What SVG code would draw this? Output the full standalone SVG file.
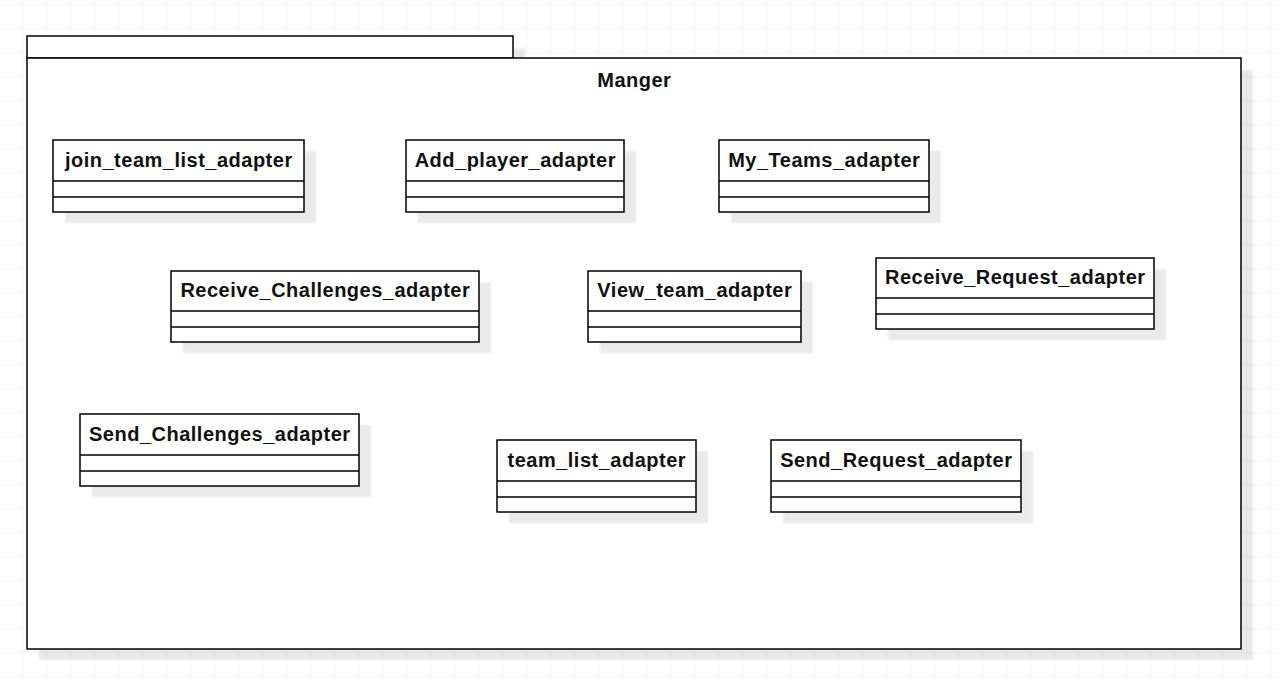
<svg xmlns="http://www.w3.org/2000/svg" width="1280" height="680" viewBox="0 0 1280 680">
<defs>
<pattern id="grid" x="-1" y="5" width="24" height="24" patternUnits="userSpaceOnUse">
<path d="M24 0V24M0 24H24" fill="none" stroke="#ededed" stroke-width="1"/>
</pattern>
<filter id="sh" x="-10%" y="-10%" width="130%" height="140%"><feGaussianBlur stdDeviation="1"/></filter>
</defs>
<style>
.box{fill:#fff;stroke:#000;stroke-width:1.5}
.shd{fill:#000;opacity:0.08;filter:url(#sh)}
.ln{stroke:#000;stroke-width:1.5}
.t{font-family:"Liberation Sans",Arial,sans-serif;font-weight:bold;font-size:20px;letter-spacing:0.5px;fill:#111;text-anchor:middle}
</style>
<rect width="1280" height="680" fill="#fff"/>
<rect width="1280" height="680" fill="url(#grid)"/>
<g id="package">
<rect class="shd" x="39" y="48" width="486" height="22"/>
<rect class="shd" x="39" y="70" width="1214" height="590"/>
<rect class="box" x="27" y="36" width="486" height="22"/>
<rect class="box" x="27" y="58" width="1214" height="591"/>
<text class="t" x="634.3" y="87">Manger</text>
</g>
<g id="join_team_list_adapter">
<rect class="shd" x="65" y="151" width="251" height="72"/>
<rect class="box" x="53" y="140" width="251" height="72"/>
<line class="ln" x1="53" y1="181" x2="304" y2="181"/><line class="ln" x1="53" y1="197" x2="304" y2="197"/>
<text class="t" x="178.8" y="167">join_team_list_adapter</text>
</g>
<g id="Add_player_adapter">
<rect class="shd" x="418" y="151" width="218" height="72"/>
<rect class="box" x="406" y="140" width="218" height="72"/>
<line class="ln" x1="406" y1="181" x2="624" y2="181"/><line class="ln" x1="406" y1="197" x2="624" y2="197"/>
<text class="t" x="515.3" y="167">Add_player_adapter</text>
</g>
<g id="My_Teams_adapter">
<rect class="shd" x="731" y="151" width="210" height="72"/>
<rect class="box" x="719" y="140" width="210" height="72"/>
<line class="ln" x1="719" y1="181" x2="929" y2="181"/><line class="ln" x1="719" y1="197" x2="929" y2="197"/>
<text class="t" x="824.3" y="167">My_Teams_adapter</text>
</g>
<g id="Receive_Challenges_adapter">
<rect class="shd" x="183" y="282" width="308" height="71"/>
<rect class="box" x="171" y="271" width="308" height="71"/>
<line class="ln" x1="171" y1="311" x2="479" y2="311"/><line class="ln" x1="171" y1="327" x2="479" y2="327"/>
<text class="t" x="325.3" y="297">Receive_Challenges_adapter</text>
</g>
<g id="View_team_adapter">
<rect class="shd" x="600" y="282" width="213" height="71"/>
<rect class="box" x="588" y="271" width="213" height="71"/>
<line class="ln" x1="588" y1="311" x2="801" y2="311"/><line class="ln" x1="588" y1="327" x2="801" y2="327"/>
<text class="t" x="694.8" y="297">View_team_adapter</text>
</g>
<g id="Receive_Request_adapter">
<rect class="shd" x="888" y="269" width="278" height="71"/>
<rect class="box" x="876" y="258" width="278" height="71"/>
<line class="ln" x1="876" y1="298" x2="1154" y2="298"/><line class="ln" x1="876" y1="314" x2="1154" y2="314"/>
<text class="t" x="1015.3" y="284">Receive_Request_adapter</text>
</g>
<g id="Send_Challenges_adapter">
<rect class="shd" x="92" y="425" width="279" height="72"/>
<rect class="box" x="80" y="414" width="279" height="72"/>
<line class="ln" x1="80" y1="455" x2="359" y2="455"/><line class="ln" x1="80" y1="471" x2="359" y2="471"/>
<text class="t" x="219.8" y="441">Send_Challenges_adapter</text>
</g>
<g id="team_list_adapter">
<rect class="shd" x="509" y="451" width="199" height="72"/>
<rect class="box" x="497" y="440" width="199" height="72"/>
<line class="ln" x1="497" y1="481" x2="696" y2="481"/><line class="ln" x1="497" y1="497" x2="696" y2="497"/>
<text class="t" x="596.8" y="467">team_list_adapter</text>
</g>
<g id="Send_Request_adapter">
<rect class="shd" x="783" y="451" width="250" height="72"/>
<rect class="box" x="771" y="440" width="250" height="72"/>
<line class="ln" x1="771" y1="481" x2="1021" y2="481"/><line class="ln" x1="771" y1="497" x2="1021" y2="497"/>
<text class="t" x="896.3" y="467">Send_Request_adapter</text>
</g>
<g id="connectors"/>
</svg>
